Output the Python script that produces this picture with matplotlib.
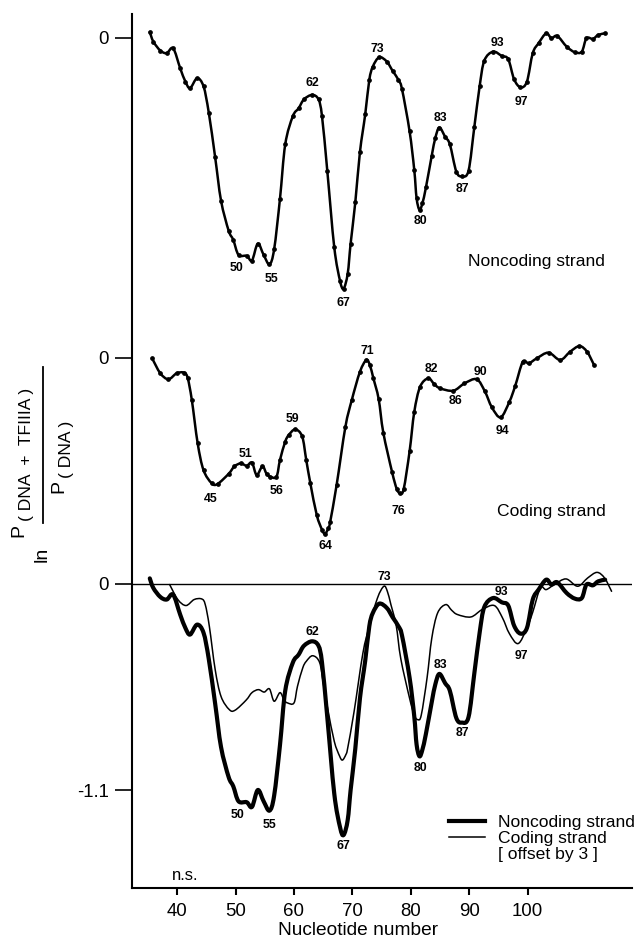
"""Footprint-style difference plot: ln(P(DNA+TFIIIA)/P(DNA)) along the 5S gene.

Three stacked traces on one axis: noncoding strand, coding strand, and the two
overlaid (coding shifted by 3 nucleotides).
"""

import numpy as np
import matplotlib

matplotlib.use("Agg")
import matplotlib.pyplot as plt  # noqa: E402
from matplotlib.lines import Line2D  # noqa: E402
from matplotlib.path import Path  # noqa: E402
from matplotlib.patches import PathPatch  # noqa: E402

plt.rcParams["font.family"] = ["Liberation Sans", "DejaVu Sans"]

# --- data (x = nucleotide position as drawn, y = ln ratio) -------------------
NONCODING_X = [35.3, 35.9, 37.1, 38.2, 39.3, 40.5, 41.4, 42.2, 43.4, 44.5,
               45.4, 46.5, 47.5, 48.8, 49.6, 50.5, 51.9, 52.8, 53.8, 54.8,
               55.8, 56.6, 57.6, 58.5, 59.8, 60.8, 61.7, 63.1, 64.2, 64.8,
               65.7, 66.9, 67.9, 68.5, 69.2, 69.7, 70.5, 71.3, 72.2, 72.9,
               73.5, 74.6, 75.9, 76.9, 77.9, 78.5, 79.8, 80.6, 81.0, 81.5,
               82.0, 82.6, 83.6, 84.2, 84.9, 85.9, 86.7, 87.8, 88.75, 89.9,
               90.9, 91.8, 92.6, 94.1, 95.6, 96.7, 97.7, 98.8, 99.9, 100.9,
               101.9, 103.2, 104.1, 105.1, 106.7, 108.1, 109.3, 110.1, 111.2,
               112.1, 113.3]
NONCODING_Y = [0.03, -0.021, -0.069, -0.083, -0.057, -0.163, -0.235, -0.27,
               -0.217, -0.26, -0.40, -0.64, -0.87, -1.03, -1.08, -1.16, -1.165,
               -1.19, -1.10, -1.16, -1.21, -1.13, -0.86, -0.57, -0.42, -0.377,
               -0.33, -0.306, -0.33, -0.42, -0.71, -1.12, -1.30, -1.34, -1.26,
               -1.10, -0.88, -0.61, -0.41, -0.226, -0.155, -0.105, -0.128,
               -0.178, -0.226, -0.275, -0.50, -0.706, -0.857, -0.92, -0.884,
               -0.80, -0.63, -0.537, -0.48, -0.53, -0.57, -0.715, -0.74, -0.71,
               -0.475, -0.26, -0.123, -0.075, -0.098, -0.115, -0.222, -0.265,
               -0.235, -0.083, -0.03, 0.023, -0.003, 0.009, -0.048, -0.078,
               -0.075, -0.003, -0.007, 0.014, 0.023]

CODING_X = [35.7, 37.1, 38.5, 39.9, 41.2, 41.8, 42.5, 43.5, 44.5, 45.9,
            46.9, 48.8, 49.8, 50.9, 51.9, 52.8, 53.6, 54.6, 55.3, 55.9,
            57.0, 57.6, 58.5, 59.1, 60.2, 61.4, 62.1, 62.8, 63.9, 64.8,
            65.3, 65.9, 66.2, 67.3, 68.8, 69.9, 71.3, 72.4, 73.0, 73.6,
            74.5, 75.3, 76.8, 77.6, 78.2, 78.8, 79.8, 80.6, 81.6, 83.0,
            84.0, 85.0, 87.3, 89.2, 91.3, 92.7, 93.9, 95.4, 96.9, 97.9,
            99.2, 100.2, 101.6, 103.6, 105.6, 107.3, 108.9, 110.2, 111.4]
CODING_Y = [-0.003, -0.083, -0.115, -0.083, -0.08, -0.11, -0.226, -0.457,
            -0.60, -0.67, -0.674, -0.62, -0.58, -0.564, -0.577, -0.56, -0.626,
            -0.58, -0.62, -0.635, -0.635, -0.546, -0.448, -0.413, -0.383,
            -0.42, -0.546, -0.67, -0.84, -0.918, -0.94, -0.91, -0.876, -0.68,
            -0.37, -0.226, -0.075, -0.012, -0.04, -0.11, -0.22, -0.40, -0.61,
            -0.70, -0.724, -0.70, -0.50, -0.29, -0.155, -0.11, -0.14, -0.163,
            -0.176, -0.137, -0.115, -0.18, -0.265, -0.318, -0.235, -0.15,
            -0.021, -0.03, -0.003, 0.027, -0.012, 0.032, 0.062, 0.032, -0.039]

CODING_OFFSET = 3  # coding strand shifted by 3 nt in the overlay

X_TICKS = [40, 50, 60, 70, 80, 90, 100]

# peak labels: (text, x as drawn, offset from curve in px)
TOP_LABELS = [("62", 63.07, 11.7), ("73", 74.3, 10.7), ("50", 50.2, -17.8),
              ("55", 56.1, -20.6), ("67", 68.5, -14), ("80", 81.6, -12),
              ("83", 85.15, 11.6), ("87", 88.9, -13.7), ("93", 94.9, 10.7),
              ("97", 98.9, -14.9)]
MID_LABELS = [("45", 45.82, -16.4), ("51", 51.64, 11.2), ("56", 56.95, -14.4),
              ("59", 59.8, 12.4), ("64", 65.4, -13.2), ("71", 72.48, 10.1),
              ("76", 77.9, -19.6), ("82", 83.5, 11.8), ("86", 87.6, -11.1),
              ("90", 92.0, 13.7), ("94", 95.7, -16.9)]
BOT_LABELS = [("62", 63.07, 9, "nc"), ("50", 50.4, -15.8, "nc"),
              ("55", 55.75, -14.4, "nc"), ("67", 68.5, -11, "nc"),
              ("83", 85.15, 11.2, "nc"), ("80", 81.6, -13.3, "nc"),
              ("87", 88.9, -11.4, "nc"), ("93", 95.6, 10.7, "nc"),
              ("97", 98.9, -23, "nc"), ("73", 75.45, 10, "c")]

# --- layout (vertical stacking of the three traces on one axis) -------------
TOP_SHIFT = 2.917
MID_SHIFT = 1.208
W, H = 638, 943


def fig_xy(px, py):
    return px / W, 1 - py / H


def smooth_line(ax, xs, ys, lw):
    """Draw a Catmull-Rom curve through the points (Bezier path, no resampling)."""
    p = np.column_stack([xs, ys])
    ext = np.vstack([p[0], p, p[-1]])
    verts = [p[0]]
    codes = [Path.MOVETO]
    for i in range(1, len(ext) - 2):
        p0, p1, p2, p3 = ext[i - 1], ext[i], ext[i + 1], ext[i + 2]
        verts += [p1 + (p2 - p0) / 6, p2 - (p3 - p1) / 6, p2]
        codes += [Path.CURVE4] * 3
    ax.add_patch(PathPatch(Path(verts, codes), fill=False, ec="k", lw=lw,
                           joinstyle="round", capstyle="round"))


def label_peaks(ax, xs, ys, labels, shift):
    for text, x, dy in labels:
        y = np.interp(x, xs, ys) + shift
        ax.annotate(text, (x, y), xytext=(0, dy * 0.72), textcoords="offset points",
                    ha="center", va="center", fontsize=8.8, fontweight="bold")


def main():
    fig = plt.figure(figsize=(W / 100, H / 100), dpi=100)
    ax = fig.add_axes([131.7 / W, 1 - 888 / H, (632 - 131.7) / W, (888 - 14) / H])
    ax.set_xlim(32.2, 117.9)
    ax.set_ylim(-1.623, 3.043)

    nc_x = np.array(NONCODING_X)
    nc_y = np.array(NONCODING_Y)
    c_x = np.array(CODING_X)
    c_y = np.array(CODING_Y)

    # top: noncoding strand, middle: coding strand (with data dots)
    smooth_line(ax, nc_x, nc_y + TOP_SHIFT, 1.8)
    ax.plot(nc_x, nc_y + TOP_SHIFT, ls="none", color="k", marker="o", ms=2.4)
    smooth_line(ax, c_x, c_y + MID_SHIFT, 1.8)
    ax.plot(c_x, c_y + MID_SHIFT, ls="none", color="k", marker="o", ms=2.4)

    # bottom: overlay
    ax.axhline(0, color="k", lw=1.0)
    smooth_line(ax, nc_x, nc_y, 3.0)
    smooth_line(ax, c_x + CODING_OFFSET, c_y, 1.1)

    label_peaks(ax, nc_x, nc_y, TOP_LABELS, TOP_SHIFT)
    label_peaks(ax, c_x, c_y, MID_LABELS, MID_SHIFT)
    for text, x, dy, key in BOT_LABELS:
        xs, ys = (nc_x, nc_y) if key == "nc" else (c_x + CODING_OFFSET, c_y)
        label_peaks(ax, xs, ys, [(text, x, dy)], 0)

    ax.text(89.8, 1.721, "Noncoding strand", fontsize=12.6, ha="left", va="center")
    ax.text(94.7, 0.386, "Coding strand", fontsize=12.6, ha="left", va="center")
    ax.text(41.4, -1.554, "n.s.", fontsize=12, ha="center", va="center")

    handles = [Line2D([], [], color="k", lw=3.0),
               Line2D([], [], color="k", lw=1.1),
               Line2D([], [], color="none")]
    ax.legend(handles, ["Noncoding strand", "Coding strand", "[ offset by 3 ]"],
              loc="upper left", bbox_to_anchor=fig_xy(449, 815),
              bbox_transform=fig.transFigure, frameon=False, fontsize=12.6,
              borderpad=0, borderaxespad=0, labelspacing=0.05,
              handlelength=2.07, handletextpad=0.75)

    # axes styling
    for side in ("top", "right"):
        ax.spines[side].set_visible(False)
    for side in ("left", "bottom"):
        ax.spines[side].set_linewidth(1.5)
    ax.set_xticks(X_TICKS)
    ax.set_xticklabels([str(t) for t in X_TICKS])
    ax.set_yticks([-1.1, 0, MID_SHIFT, TOP_SHIFT])
    ax.set_yticklabels(["-1.1", "0", "0", "0"])
    ax.tick_params(axis="y", length=12, width=1.2, pad=4.5, labelsize=13.4)
    ax.tick_params(axis="x", length=5, width=1.5, pad=5.5, labelsize=13.4)
    ax.set_xlabel("Nucleotide number", fontsize=13.8)
    ax.xaxis.set_label_coords((358 - 131.7) / (632 - 131.7), -(922 - 888) / (888 - 14))

    # y label: ln [ P(DNA + TFIIIA) / P(DNA) ], drawn rotated in pieces
    kw = dict(rotation=90, rotation_mode="anchor", ha="left", va="center")
    fig.text(*fig_xy(42, 562), "ln", fontsize=14, **kw)
    fig.text(*fig_xy(19, 537), "P", fontsize=14, **kw)
    fig.text(*fig_xy(26, 521), "( DNA  +  TFIIIA )", fontsize=12.6, **kw)
    fig.text(*fig_xy(59, 493), "P", fontsize=14, **kw)
    fig.text(*fig_xy(67, 478), "( DNA )", fontsize=12.6, **kw)
    fig.add_artist(Line2D([43 / W, 43 / W], [1 - 523 / H, 1 - 367 / H],
                          color="k", lw=1.3, transform=fig.transFigure))

    fig.savefig("out.png", dpi=100)
    plt.close(fig)


if __name__ == "__main__":
    main()
